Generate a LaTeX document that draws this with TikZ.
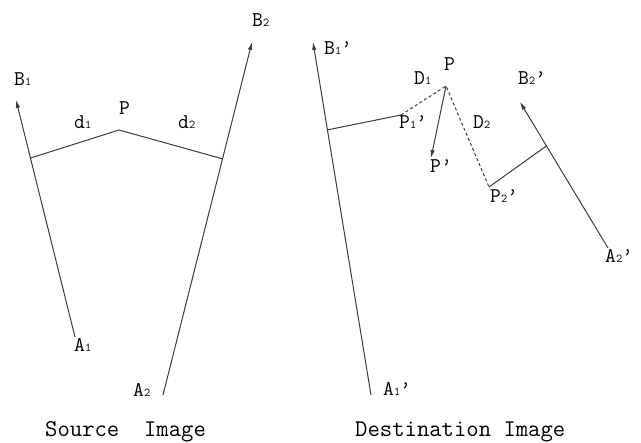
\documentclass[tikz,border=0pt]{standalone}
\usepackage{fontspec}
\usetikzlibrary{arrows.meta,calc}
\definecolor{ink}{HTML}{3C3C3C}
\newcommand\ix[1]{{\fontsize{12}{12}\selectfont #1}}
\tikzset{
  seg/.style={ink, line width=1pt},
  arr/.style={seg, -{Latex[length=8pt,width=4.5pt]}},
  dsh/.style={seg, dash pattern=on 3pt off 2.5pt},
  lbl/.style={anchor=base west, inner sep=0pt, font=\ttfamily\fontsize{21}{21}\selectfont},
  title/.style={anchor=base west, inner sep=0pt, font=\ttfamily\fontsize{24}{24}\selectfont}
}

\begin{document}
\begin{tikzpicture}[x=1pt,y=-1pt]
  \useasboundingbox (0,0) rectangle (641,443);
  % source image
  \coordinate (a1) at (75,337);
  \coordinate (b1) at (16,100);
  \coordinate (a2) at (163,395);
  \coordinate (b2) at (252,42);
  \coordinate (p) at (119,130);
  \coordinate (x1) at ($(a1)!0.755!(b1)$);
  \coordinate (x2) at ($(a2)!0.669!(b2)$);
  \draw[arr] (a1) -- (b1);
  \draw[arr] (a2) -- (b2);
  \draw[seg] (x1) -- (p) -- (x2);
  \node[lbl] (lb1) at (14,86) {B\ix1};
  \node[lbl] (lb2) at (252,27) {B\ix2};
  \node[lbl] (la1) at (74,352) {A\ix1};
  \node[lbl] (la2) at (133,397) {A\ix2};
  \node[lbl] (lp) at (119,115) {P};
  \node[lbl] (ld1) at (74,129) {d\ix1};
  \node[lbl] (ld2) at (178,129) {d\ix2};
  \node[title] (src) at (45,437) {Source\ \ Image};
  % destination image
  \coordinate (c1) at (371,395);
  \coordinate (e1) at (313,42);
  \coordinate (c2) at (608,248);
  \coordinate (e2) at (520,102);
  \coordinate (y1) at ($(c1)!0.751!(e1)$);
  \coordinate (y2) at ($(c2)!0.699!(e2)$);
  \coordinate (q1) at (401,115);
  \coordinate (q2) at (489,187);
  \coordinate (q) at (446,86);
  \coordinate (qq) at (431,158);
  \draw[arr] (c1) -- (e1);
  \draw[arr] (c2) -- (e2);
  \draw[seg] (y1) -- (q1);
  \draw[seg] (q2) -- (y2);
  \draw[dsh] (q1) -- (q) -- (q2);
  \draw[arr] (q) -- (qq);
  \node[lbl] (le1) at (324,55) {B\ix1’};
  \node[lbl] (le2) at (518,85) {B\ix2’};
  \node[lbl] (lc1) at (383,396) {A\ix1’};
  \node[lbl] (lc2) at (605,263) {A\ix2’};
  \node[lbl] (lq) at (444,71) {P};
  \node[lbl] (lD1) at (414,85) {D\ix1};
  \node[lbl] (lD2) at (473,129) {D\ix2};
  \node[lbl] (lq1) at (399,129) {P\ix1’};
  \node[lbl] (lq2) at (490,203) {P\ix2’};
  \node[lbl] (lqq) at (430,173) {P’};
  \node[title] (dst) at (355,437) {Destination Image};
\end{tikzpicture}
\end{document}
